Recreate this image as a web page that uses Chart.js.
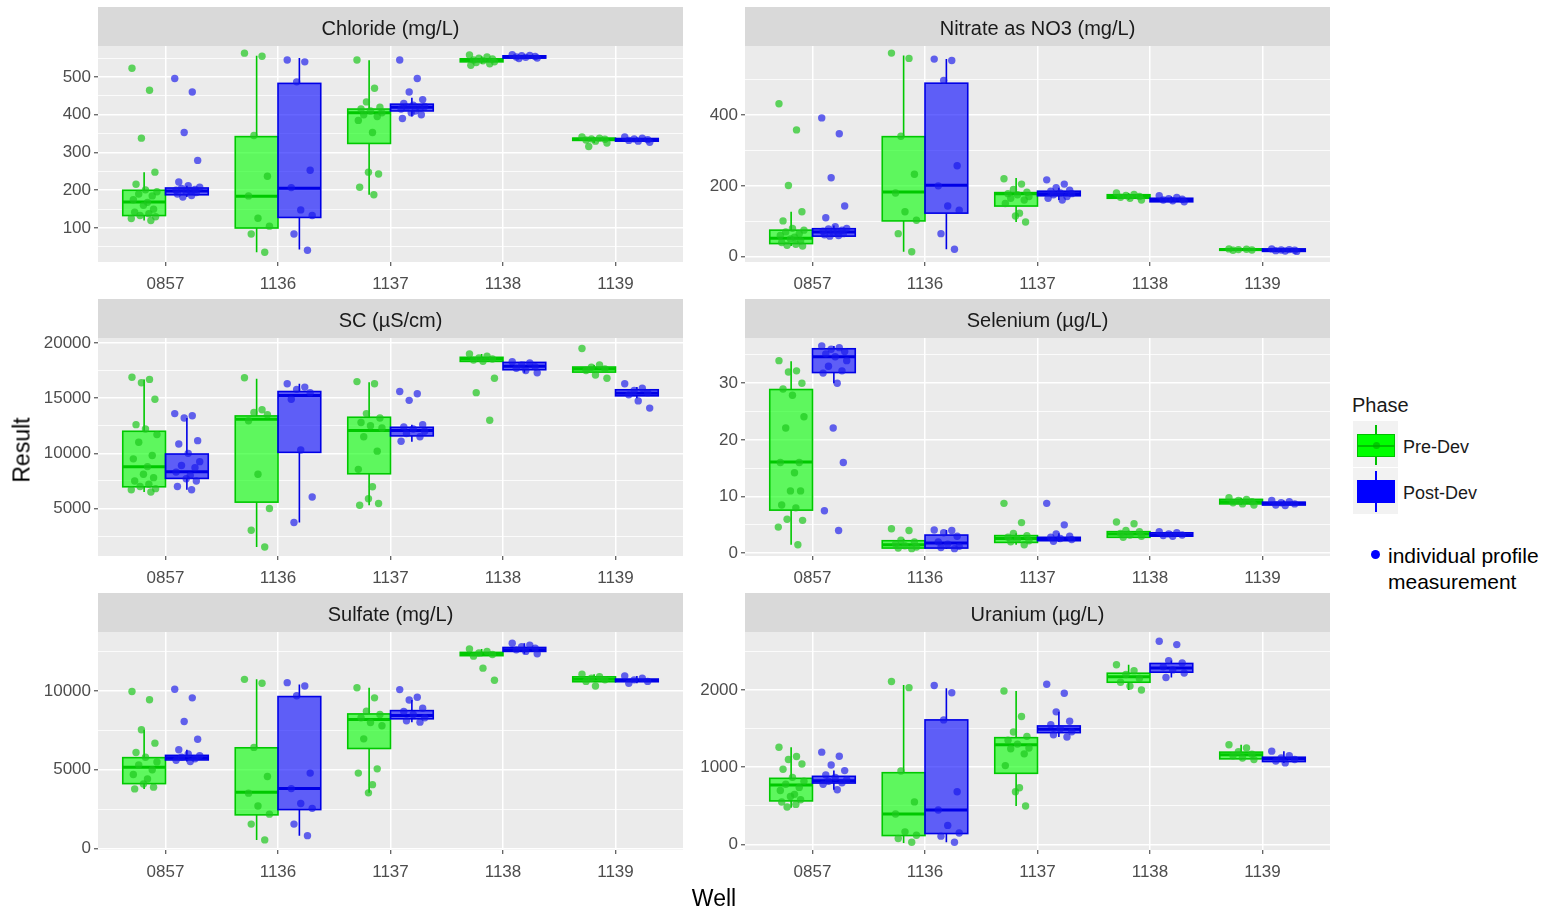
<!DOCTYPE html>
<html><head><meta charset="utf-8">
<script src="https://cdn.jsdelivr.net/npm/chart.js@4.4.1/dist/chart.umd.min.js"></script>
<style>
body{margin:0;background:#fff;width:1553px;height:913px;position:relative;overflow:hidden;font-family:"Liberation Sans",Arial,sans-serif;}
canvas{position:absolute;}
.t{position:absolute;white-space:nowrap;line-height:1;}
.abs{position:absolute;box-sizing:border-box;}
</style></head><body>
<div id="root"></div>
<script>
// ---------------- DATA ----------------
const WELLS = ['0857','1136','1137','1138','1139'];
const PHASES = ['Pre-Dev','Post-Dev'];

// box stats per well: [lower whisker, Q1, median, Q3, upper whisker]
const CL_PRE_BOX  = [[120,133,169,200,248],[36,100,184,342,556],[188,324,405,415,544],[535,540,545,548,555],[325,332,335,338,341]];
const CL_POST_BOX = [[182,188,198,206,212],[43,128,205,483,550],[395,410,420,428,445],[549,550,553,556,558],[328,330,334,337,340]];
const CL_PRE_PTS  = [[523,465,338,248,216,201,196,190,185,175,168,160,150,142,138,133,130,125,120],[563,555,345,237,185,126,105,84,36],[545,470,434,420,415,410,405,400,395,385,353,248,243,208,188],[558,553,550,548,545,543,540,538,535,531],[341,338,336,335,333,330,325,316]];
const CL_POST_PTS = [[496,460,353,279,222,212,208,205,202,200,198,196,194,190,186,182],[545,540,487,253,207,148,133,84,41],[545,496,460,440,430,425,422,420,418,415,410,405,400,390],[559,557,556,554,553,552,550,549],[341,338,336,334,332,330,327]];
const CL_TICKS = [100,200,300,400,500];
const CL_MINOR = [50,150,250,350,450,550];

const NO3_PRE_BOX  = [[30,37,52,75,127],[14,101,183,339,568],[98,143,178,181,222],[160,165,170,175,180],[17,18,20,22,23]];
const NO3_POST_BOX = [[56,58,70,79,88],[21,123,202,490,558],[160,172,178,185,195],[153,155,160,165,170],[14,15,18,22,24]];
const NO3_PRE_PTS  = [[432,358,201,127,101,80,75,70,65,60,55,50,45,40,35,32,30],[575,560,340,233,180,127,103,65,14],[220,205,190,182,178,175,170,165,160,150,123,115,98],[180,176,173,170,168,165,160],[22,21,20,19,18]];
const NO3_POST_PTS = [[392,347,223,143,110,85,80,78,75,72,70,68,65,62,60,58],[558,554,498,257,200,143,131,65,21],[217,205,195,188,185,180,178,175,170,165,160],[172,167,164,162,160,158,155],[22,20,19,18,17,16,15]];
const NO3_TICKS = [0,200,400];
const NO3_MINOR = [100,300,500];

const SC_PRE_BOX  = [[6500,6970,8790,12000,16700],[1520,5580,13090,13390,16750],[5300,8150,12060,13270,16450],[18300,18330,18540,18700,19000],[17300,17360,17640,17820,18000]];
const SC_POST_BOX = [[6700,7730,8330,9940,13200],[3730,10090,15240,15600,16300],[11060,11580,12060,12360,12600],[17300,17575,17880,18240,18300],[15000,15210,15450,15760,16000]];
const SC_PRE_PTS  = [[16900,16700,16400,14900,12600,12200,11700,11000,9800,9500,8800,8100,7800,7500,7200,7000,6800,6700,6500],[16850,13950,13700,13500,12950,8100,5000,3030,1520],[16500,16300,13600,13200,12800,12500,12300,11500,10200,8550,6970,5880,5450,5300],[19000,18800,18650,18550,18450,18350,16800,15500,13000],[19500,18000,17800,17650,17500,17100,16800]];
const SC_POST_PTS = [[13600,13400,13200,11150,10850,10000,9250,8900,8700,8300,8000,7700,7500,7000,6700],[16300,16000,15800,15500,14900,10300,6050,3730],[15600,15400,14800,12600,12400,12200,12000,11800,11500,11100],[18300,18200,18000,17850,17700,17500,17300],[16300,15900,15700,15500,15300,14750,14100]];
const SC_TICKS = [5000,10000,15000,20000];
const SC_MINOR = [2500,7500,12500,17500];

const SE_PRE_BOX  = [[1.5,7.6,16.1,28.9,33.9],[0.8,0.9,1.5,2.2,2.5],[1.5,1.9,2.6,3.1,3.5],[2.8,2.8,3.4,3.8,4.0],[8.5,8.7,9.1,9.5,9.8]];
const SE_POST_BOX = [[30,31.9,34.7,36.1,36.6],[0.8,0.9,1.8,3.2,4.1],[2.0,2.2,2.6,2.8,3.5],[3.0,3.0,3.2,3.6,3.8],[8.4,8.5,8.8,9.0,9.3]];
const SE_PRE_PTS  = [[34,32.2,32,30,29,27.9,24.1,22.1,16,16,14.2,11,11,8.5,8,6,5.8,4.6,1.5],[4.3,4.0,2.3,2.0,1.6,1.3,1.1,0.9,0.8],[8.8,5.4,3.5,3.1,2.8,2.5,2.2,2.0,1.5],[5.5,5.2,4.0,3.8,3.5,3.2,3.0,2.8],[9.8,9.5,9.3,9.1,8.9,8.7,8.5]];
const SE_POST_PTS = [[36.6,36.3,36,35.6,35.2,34.7,34,33,32.2,31.8,30,22.1,16,7.5,4],[4.1,4.0,3.6,3.0,2.0,1.6,1.2,1.0,0.8],[8.8,5.0,3.4,3.0,2.8,2.6,2.4,2.1],[3.8,3.6,3.4,3.2,3.1,3.0],[9.3,9.1,8.9,8.7,8.5,8.4]];
const SE_TICKS = [0,10,20,30];
const SE_MINOR = [5,15,25,35];

const SO4_PRE_BOX  = [[3790,4125,5166,5770,7540],[560,2146,3583,6395,10730],[3540,6350,8190,8540,10200],[12200,12230,12310,12440,12650],[10580,10580,10730,10890,11060]];
const SO4_POST_BOX = [[5520,5625,5770,5915,6270],[830,2480,3810,9640,10410],[8020,8230,8440,8750,9420],[12350,12500,12600,12750,13020],[10480,10580,10660,10750,10940]];
const SO4_PRE_PTS  = [[9960,9440,7540,6690,6100,5800,5500,5300,5000,4700,4420,4100,3900,3790],[10730,10480,6420,4580,3520,2710,2190,1560,560],[10200,9560,8710,8500,8300,8000,7790,6960,5060,4790,4060,3540],[12650,12500,12400,12300,12200,11440,10670],[11060,10900,10800,10700,10600,10310]];
const SO4_POST_PTS = [[10100,9560,8060,6940,6270,6000,5900,5800,5700,5600,5520],[10520,10310,9690,4790,3810,2870,2560,1560,830],[10080,9600,9420,8900,8700,8500,8300,8100,8020],[13020,12900,12800,12700,12600,12500,12350],[10940,10800,10700,10600,10480]];
const SO4_TICKS = [0,5000,10000];
const SO4_MINOR = [2500,7500,12500];

const U_PRE_BOX  = [[478,565,770,857,1260],[22,117,396,930,2065],[500,922,1291,1383,1987],[2000,2100,2170,2217,2326],[1100,1109,1161,1196,1291]];
const U_POST_BOX = [[709,796,826,883,960],[30,143,448,1613,2022],[1391,1448,1491,1535,1717],[2161,2230,2283,2343,2380],[1057,1074,1109,1130,1209]];
const U_PRE_PTS  = [[1260,1140,1100,1043,974,870,820,780,740,700,650,622,580,550,520,487],[2109,2030,952,552,396,165,120,78,30],[1987,1656,1457,1400,1350,1300,1250,1239,1174,1022,735,683,500],[2326,2250,2200,2150,2100,2050,2000],[1291,1250,1200,1170,1150,1120,1100]];
const U_POST_PTS = [[1196,1143,1030,957,900,870,840,820,800,780,709],[2057,1965,1613,683,448,248,150,109,30],[2074,1957,1717,1596,1550,1500,1460,1420,1391],[2630,2587,2380,2350,2300,2260,2220,2161],[1209,1150,1120,1100,1080,1057]];
const U_TICKS = [0,1000,2000];
const U_MINOR = [500,1500,2500];

// ---------------- LAYOUT / STYLE ----------------
const JITTER = [-0.9,0.4,-0.2,0.8,-0.6,0.1,0.95,-0.4,0.6,-0.8,0.25,-0.05,0.7,-0.7,0.35,-0.3,0.85,-0.95,0.5,0.0,-0.5,0.15,-0.15,0.75,-0.85];
const JW = 0.12, BOX_HALF = 0.19, DODGE = 0.19;
const FONT = '"Liberation Sans", Arial, sans-serif';
const STYLE = {
  pre:  {fill:'rgba(0,255,0,0.6)', line:'#00c800', pt:'rgba(30,200,30,0.7)'},
  post: {fill:'rgba(0,0,255,0.6)', line:'#0000e6', pt:'rgba(20,20,235,0.65)'}
};
const COL_LEFT = [0, 647];
const ROW_TOP = [7, 299, 593];
const PLOT_H = [216, 218, 218];
const YAXIS_W = 98, XAXIS_H = 40, STRIP_H = 39, CANVAS_W = 690;

const PANELS = [
  {title:'Chloride (mg/L)', col:0,row:0, pre:CL_PRE_BOX, post:CL_POST_BOX, prePts:CL_PRE_PTS, postPts:CL_POST_PTS, ticks:CL_TICKS, minor:CL_MINOR, min:10, max:582},
  {title:'Nitrate as NO3 (mg/L)', col:1,row:0, pre:NO3_PRE_BOX, post:NO3_POST_BOX, prePts:NO3_PRE_PTS, postPts:NO3_POST_PTS, ticks:NO3_TICKS, minor:NO3_MINOR, min:-15, max:595},
  {title:'SC (µS/cm)', col:0,row:1, pre:SC_PRE_BOX, post:SC_POST_BOX, prePts:SC_PRE_PTS, postPts:SC_POST_PTS, ticks:SC_TICKS, minor:SC_MINOR, min:700, max:20450},
  {title:'Selenium (µg/L)', col:1,row:1, pre:SE_PRE_BOX, post:SE_POST_BOX, prePts:SE_PRE_PTS, postPts:SE_POST_PTS, ticks:SE_TICKS, minor:SE_MINOR, min:-0.5, max:38},
  {title:'Sulfate (mg/L)', col:0,row:2, pre:SO4_PRE_BOX, post:SO4_POST_BOX, prePts:SO4_PRE_PTS, postPts:SO4_POST_PTS, ticks:SO4_TICKS, minor:SO4_MINOR, min:-80, max:13730},
  {title:'Uranium (µg/L)', col:1,row:2, pre:U_PRE_BOX, post:U_POST_BOX, prePts:U_PRE_PTS, postPts:U_POST_PTS, ticks:U_TICKS, minor:U_MINOR, min:-70, max:2750}
];

const facetPlugin = {
  id: 'facet',
  beforeDraw(chart) {
    const {ctx, chartArea: a} = chart;
    ctx.save();
    ctx.fillStyle = '#ebebeb';
    ctx.fillRect(a.left, a.top, a.right - a.left, a.bottom - a.top);
    ctx.fillStyle = '#d9d9d9';
    ctx.fillRect(a.left, 0, a.right - a.left, a.top);
    ctx.restore();
  },
  beforeDatasetsDraw(chart, args, opts) {
    const {ctx, scales:{x, y}, chartArea:a} = chart;
    ctx.save();
    ctx.beginPath(); ctx.rect(a.left, a.top, a.right-a.left, a.bottom-a.top); ctx.clip();
    opts.groups.forEach(g => {
      g.stats.forEach((s, i) => {
        const [lo,q1,med,q3,hi] = s;
        const cx = i + g.offset;
        const xl = x.getPixelForValue(cx - BOX_HALF), xr = x.getPixelForValue(cx + BOX_HALF), xm = x.getPixelForValue(cx);
        const yLo = y.getPixelForValue(lo), y1 = y.getPixelForValue(q1), yM = y.getPixelForValue(med), y3 = y.getPixelForValue(q3), yHi = y.getPixelForValue(hi);
        ctx.strokeStyle = g.style.line;
        ctx.lineWidth = 1.6;
        ctx.beginPath();
        ctx.moveTo(xm, yHi); ctx.lineTo(xm, y3);
        ctx.moveTo(xm, y1); ctx.lineTo(xm, yLo);
        ctx.stroke();
        ctx.fillStyle = g.style.fill;
        ctx.fillRect(xl, y3, xr - xl, y1 - y3);
        ctx.strokeRect(xl, y3, xr - xl, y1 - y3);
        ctx.lineWidth = 3;
        ctx.beginPath(); ctx.moveTo(xl, yM); ctx.lineTo(xr, yM); ctx.stroke();
      });
    });
    ctx.restore();
  }
};

function pts(lists, offset) {
  const out = [];
  lists.forEach((vals, i) => vals.forEach((v, k) => out.push({x: i + offset + JITTER[k % JITTER.length] * JW, y: v})));
  return out;
}

const root = document.getElementById('root');
PANELS.forEach((p, idx) => {
  const cv = document.createElement('canvas');
  const h = STRIP_H + PLOT_H[p.row] + XAXIS_H;
  cv.width = CANVAS_W; cv.height = h;
  cv.style.left = COL_LEFT[p.col] + 'px';
  cv.style.top = ROW_TOP[p.row] + 'px';
  cv.style.width = CANVAS_W + 'px'; cv.style.height = h + 'px';
  root.appendChild(cv);
  const allY = p.ticks.concat(p.minor).sort((a,b)=>a-b);
  new Chart(cv, {
    type: 'scatter',
    data: {
      datasets: [
        {label: PHASES[0], data: pts(p.prePts, -DODGE), backgroundColor: STYLE.pre.pt, borderWidth: 0, pointRadius: 3.7},
        {label: PHASES[1], data: pts(p.postPts, DODGE), backgroundColor: STYLE.post.pt, borderWidth: 0, pointRadius: 3.7}
      ]
    },
    options: {
      responsive: false, animation: false, devicePixelRatio: 1, events: [],
      layout: {padding: {left: 0, right: 7, top: 0, bottom: 0}},
      plugins: {
        legend: {display: false}, tooltip: {enabled: false},
        title: {display: true, text: p.title, fullSize: false, color: '#1a1a1a',
                font: {family: FONT, size: 20, weight: 'normal', lineHeight: 1.2},
                padding: {top: 10, bottom: 5}},
        facet: {groups: [{stats: p.pre, offset: -DODGE, style: STYLE.pre}, {stats: p.post, offset: DODGE, style: STYLE.post}]}
      },
      scales: {
        x: {
          type: 'linear', min: -0.6, max: 4.6,
          afterBuildTicks: ax => { ax.ticks = WELLS.map((w, i) => ({value: i})); },
          afterFit: ax => { ax.height = XAXIS_H; },
          ticks: {callback: v => WELLS[v], color: '#4d4d4d', font: {family: FONT, size: 17}, padding: 8, autoSkip: false, maxRotation: 0},
          grid: {color: '#ffffff', lineWidth: 1.5, tickLength: 4, tickColor: '#333333', tickWidth: 1},
          border: {display: false}
        },
        y: {
          type: 'linear', min: p.min, max: p.max,
          afterBuildTicks: ax => { ax.ticks = allY.map(v => ({value: v})); },
          afterFit: ax => { ax.width = YAXIS_W; },
          ticks: {callback: v => p.ticks.includes(v) ? String(v) : '', color: '#4d4d4d', font: {family: FONT, size: 17}, padding: 3, autoSkip: false},
          grid: {color: '#ffffff',
                 lineWidth: c => p.ticks.includes(c.tick.value) ? 1.6 : 0.8,
                 tickLength: 4,
                 tickColor: c => p.ticks.includes(c.tick.value) ? '#333333' : 'rgba(0,0,0,0)',
                 tickWidth: 1},
          border: {display: false}
        }
      }
    },
    plugins: [facetPlugin]
  });
});

// axis titles and legend (HTML text)
function txt(s, css) { const d = document.createElement('div'); d.className = 't'; d.textContent = s; Object.assign(d.style, css); root.appendChild(d); return d; }
function box(css) { const d = document.createElement('div'); d.className = 'abs'; Object.assign(d.style, css); root.appendChild(d); return d; }

txt('Result', {left:'22px', top:'450px', fontSize:'23px', color:'#000', transform:'translate(-50%,-50%) rotate(-90deg)'});
txt('Well', {left:'714px', top:'898px', fontSize:'23px', color:'#000', transform:'translate(-50%,-50%)'});

txt('Phase', {left:'1352px', top:'395px', fontSize:'20px', color:'#1a1a1a'});
// key backgrounds
box({left:'1353px', top:'421px', width:'45px', height:'46px', background:'#f2f2f2'});
box({left:'1353px', top:'468px', width:'45px', height:'46px', background:'#f2f2f2'});
// pre key
box({left:'1375px', top:'425px', width:'2px', height:'40px', background:'#00c000'});
box({left:'1357px', top:'434px', width:'38px', height:'23px', background:'#00ff00', border:'1.5px solid #00c000'});
box({left:'1357px', top:'445px', width:'38px', height:'1.5px', background:'#00c000'});
box({left:'1373px', top:'442px', width:'7px', height:'7px', background:'rgba(0,170,0,0.6)', borderRadius:'50%'});
// post key
box({left:'1375px', top:'471px', width:'2px', height:'41px', background:'#0000ff'});
box({left:'1357px', top:'480px', width:'38px', height:'23px', background:'#0000ff'});
txt('Pre-Dev', {left:'1403px', top:'438px', fontSize:'18px', color:'#1a1a1a'});
txt('Post-Dev', {left:'1403px', top:'484px', fontSize:'18px', color:'#1a1a1a'});
// individual point note
box({left:'1371px', top:'550px', width:'9px', height:'9px', background:'#0000ff', borderRadius:'50%'});
txt('individual profile', {left:'1388px', top:'545px', fontSize:'21px', color:'#000'});
txt('measurement', {left:'1388px', top:'571px', fontSize:'21px', color:'#000'});
</script>
</body></html>
